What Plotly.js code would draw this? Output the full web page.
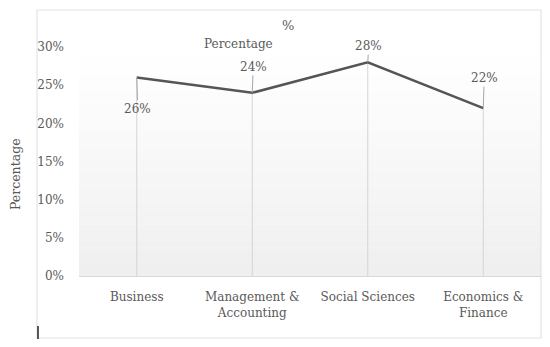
<!DOCTYPE html>
<html>
<head>
<meta charset="utf-8">
<script src="https://cdn.plot.ly/plotly-3.0.1.min.js"></script>
<style>html,body{margin:0;padding:0;background:#fff;}#chart{width:550px;height:347px;}</style>
</head>
<body>
<div id="chart"></div>
<script>
// Data
const categories = ["Business", "Management &<br>Accounting", "Social Sciences", "Economics &<br>Finance"];
const percentages = [0.26, 0.24, 0.28, 0.22];
const valueLabels = ["26%", "24%", "28%", "22%"];
const yTickValues = [0, 0.05, 0.10, 0.15, 0.20, 0.25, 0.30];
const yTickLabels = ["0%", "5%", "10%", "15%", "20%", "25%", "30%"];

const W = 550, H = 347;
const plotL = 79, plotR = 541, plotT = 47, plotB = 276;
const txt = "#595959";
const fontFam = "DejaVu Serif, Liberation Serif, serif";

// label offsets (pixels) relative to each point
const labelOffsets = [[1, 31], [1, -26], [1, -16], [1, -30]];

const trace = {
  type: "scatter",
  mode: "lines",
  x: categories,
  y: percentages,
  line: {color: "#555555", width: 2.5},
  error_y: {
    type: "data", symmetric: false,
    array: percentages.map(() => 0),
    arrayminus: percentages,
    width: 0, thickness: 1, color: "#d4d4d4"
  },
  hoverinfo: "skip",
  showlegend: false
};

// gradient background shapes for plot area
const shapes = [];
const N = 40;
for (let i = 0; i < N; i++) {
  const t = i / (N - 1);
  const v = Math.round(255 - 16 * Math.pow(t, 1.1));
  shapes.push({
    type: "rect", xref: "x domain", yref: "y domain",
    x0: 0, x1: 1, y0: 1 - (i + 1) / N, y1: 1 - i / N + 0.001,
    fillcolor: `rgb(${v},${v},${v})`, line: {width: 0}, layer: "below"
  });
}
// outer border
shapes.push({
  type: "rect", xref: "paper", yref: "paper",
  x0: 37 / W, x1: 541 / W, y0: 1 - 338 / H, y1: 1 - 10 / H,
  line: {color: "#e3e3e3", width: 1.2}, fillcolor: "rgba(0,0,0,0)", layer: "below"
});
// small dark mark bottom left
shapes.push({
  type: "line", xref: "paper", yref: "paper",
  x0: 38 / W, x1: 38 / W, y0: 1 - 339 / H, y1: 1 - 326 / H,
  line: {color: "#222222", width: 1.5}
});

const annotations = categories.map((c, i) => ({
  x: c, y: percentages[i], xref: "x", yref: "y",
  text: valueLabels[i], showarrow: true, arrowhead: 0, arrowwidth: 1,
  arrowcolor: "#a6a6a6", ax: labelOffsets[i][0], ay: labelOffsets[i][1],
  standoff: 0, font: {family: fontFam, size: 12, color: txt}
}));
annotations.push({
  xref: "paper", yref: "paper", x: 288 / W, y: 1 - 25 / H,
  xanchor: "center", yanchor: "middle",
  text: "%", showarrow: false, font: {family: fontFam, size: 13, color: txt}
});
annotations.push({
  xref: "paper", yref: "paper", x: 238.5 / W, y: 1 - 44 / H,
  xanchor: "center", yanchor: "middle",
  text: "Percentage", showarrow: false, font: {family: fontFam, size: 12, color: txt}
});
annotations.push({
  xref: "paper", yref: "paper", x: 15 / W, y: 1 - 174 / H,
  xanchor: "center", yanchor: "middle",
  text: "Percentage", showarrow: false, textangle: -90,
  font: {family: fontFam, size: 12.5, color: txt}
});

const layout = {
  width: W, height: H,
  margin: {l: 0, r: 0, t: 0, b: 0, autoexpand: false},
  paper_bgcolor: "#ffffff", plot_bgcolor: "rgba(0,0,0,0)",
  font: {family: fontFam, size: 12, color: txt},
  showlegend: false,
  xaxis: {
    type: "category", domain: [plotL / W, plotR / W],
    range: [-0.5, 3.5], showgrid: false, zeroline: false,
    showline: true, linecolor: "#d9d9d9", linewidth: 1,
    ticks: "", ticklabelstandoff: 10, automargin: false,
    tickfont: {family: fontFam, size: 12, color: txt}, fixedrange: true
  },
  yaxis: {
    domain: [1 - plotB / H, 1 - plotT / H],
    range: [0, 0.30], tickvals: yTickValues, ticktext: yTickLabels,
    showgrid: false, zeroline: false, showline: false, ticks: "",
    ticklabelstandoff: 14, automargin: false,
    tickfont: {family: fontFam, size: 12, color: txt}, fixedrange: true
  },
  shapes: shapes,
  annotations: annotations
};

Plotly.newPlot("chart", [trace], layout, {staticPlot: true, displayModeBar: false});
</script>
</body>
</html>
